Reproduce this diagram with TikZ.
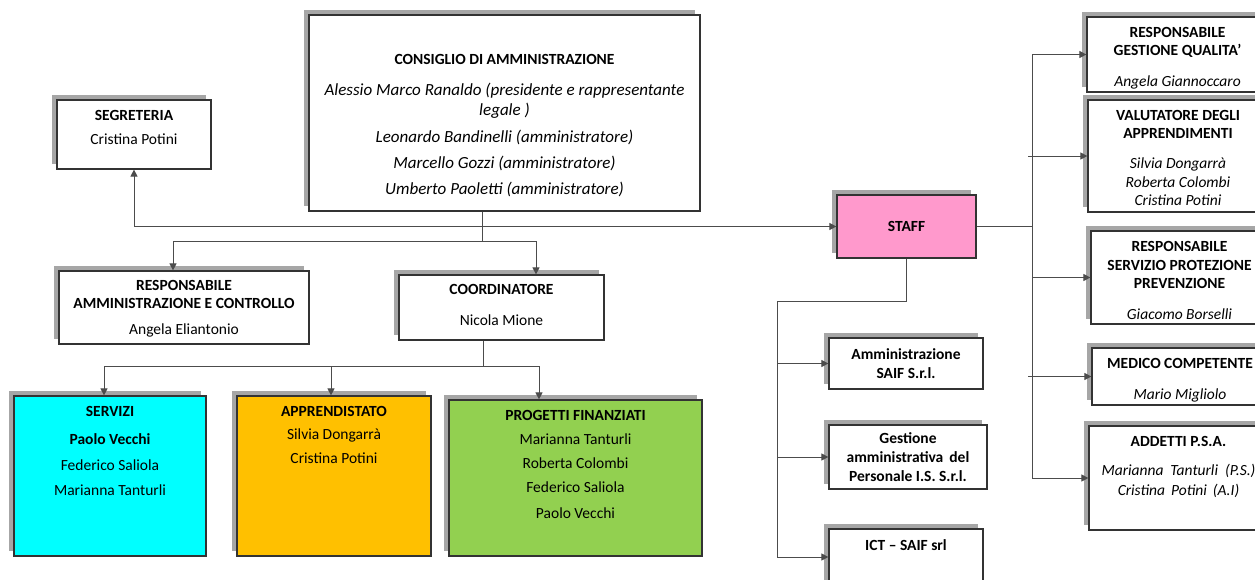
\documentclass[tikz,border=0pt]{standalone}
\usepackage{fontspec}
\setmainfont{Carlito}
\usetikzlibrary{arrows.meta,positioning,shadows}
\definecolor{servCyan}{HTML}{00FFFF}
\definecolor{apprGold}{HTML}{FFC000}
\definecolor{progGreen}{HTML}{92D050}
\definecolor{staffPink}{HTML}{FF99CC}

\begin{document}
\begin{tikzpicture}[x=1pt,y=-1pt,
		whiteBox/.style={draw=black!80,line width=1.2pt,fill=white,inner sep=0pt,align=center,
			font=\fontsize{15.5}{19}\selectfont\bfseries,
			drop shadow={shadow xshift=-5pt,shadow yshift=5pt,fill=black!35,opacity=1}},
		boxText/.style={align=center,inner sep=0pt,font=\fontsize{15.5}{18}\selectfont},
		link/.style={draw=black!70,line width=1pt},
		arrowLink/.style={link,-{Triangle[length=7pt,width=7pt]}}]
	\path[use as bounding box,clip] (0,0) rectangle (1255,579);
	\fill[white] (0,0) rectangle (1255,579);

	\node[whiteBox,minimum width=391pt,minimum height=196pt] (cda) at (504.5,113) {};
	\node[boxText,font=\fontsize{17}{20}\selectfont\itshape,below=39.5pt of cda.north] (cdaText)
		{{\fontsize{15.5}{20}\selectfont\upshape\bfseries CONSIGLIO DI AMMINISTRAZIONE}\\[11pt]
		Alessio Marco Ranaldo (presidente e rappresentante\\
		legale )\\[7pt]
		Leonardo Bandinelli (amministratore)\\[6pt]
		Marcello Gozzi (amministratore)\\[6pt]
		Umberto Paoletti (amministratore)};

	\node[whiteBox,minimum width=154pt,minimum height=69pt] (seg) at (134,134.5) {};
	\node[boxText,below=11pt of seg.north] (segText) {\textbf{SEGRETERIA}\\[6pt]Cristina Potini};

	\node[whiteBox,minimum width=250pt,minimum height=73pt] (resp) at (184,307.5) {};
	\node[boxText,below=10pt of resp.north] (respText)
		{\textbf{RESPONSABILE}\\\textbf{AMMINISTRAZIONE E CONTROLLO}\\[8pt]Angela Eliantonio};

	\node[whiteBox,minimum width=205pt,minimum height=65pt] (coord) at (501.5,307.5) {};
	\node[boxText,below=10pt of coord.north] (coordText) {\textbf{COORDINATORE}\\[13pt]Nicola Mione};

	\node[whiteBox,fill=servCyan,minimum width=192pt,minimum height=160pt] (serv) at (110,476) {};
	\node[boxText,below=11pt of serv.north] (servText)
		{\textbf{SERVIZI}\\[10pt]\textbf{Paolo Vecchi}\\[8pt]Federico Saliola\\[7pt]Marianna Tanturli};

	\node[whiteBox,fill=apprGold,minimum width=194pt,minimum height=160pt] (appr) at (334,476) {};
	\node[boxText,below=11pt of appr.north] (apprText)
		{\textbf{APPRENDISTATO}\\[5pt]Silvia Dongarrà\\[6pt]Cristina Potini};

	\node[whiteBox,fill=progGreen,minimum width=253pt,minimum height=156pt] (prog) at (575.5,478) {};
	\node[boxText,below=11pt of prog.north] (progText)
		{\textbf{PROGETTI FINANZIATI}\\[6pt]Marianna Tanturli\\[6pt]Roberta Colombi\\[6pt]Federico Saliola\\[8pt]Paolo Vecchi};

	\node[whiteBox,fill=staffPink,minimum width=139pt,minimum height=63pt] (staff) at (906.5,226.5) {STAFF};

	\node[whiteBox,minimum width=181pt,minimum height=75pt] (rgq) at (1177.5,54.5) {};
	\node[boxText,below=11pt of rgq.north] (rgqText)
		{\textbf{RESPONSABILE}\\\textbf{GESTIONE QUALITA’}\\[13pt]\textit{Angela Giannoccaro}};

	\node[whiteBox,minimum width=180pt,minimum height=112pt] (val) at (1178,156) {};
	\node[boxText,below=11pt of val.north] (valText)
		{\textbf{VALUTATORE DEGLI}\\\textbf{APPRENDIMENTI}\\[12pt]\textit{Silvia Dongarrà}\\[1pt]\textit{Roberta Colombi}\\\textit{Cristina Potini}};

	\node[whiteBox,minimum width=177pt,minimum height=93pt] (rspp) at (1179.5,277.5) {};
	\node[boxText,below=11pt of rspp.north] (rsppText)
		{\textbf{RESPONSABILE}\\[1pt]\textbf{SERVIZIO PROTEZIONE}\\\textbf{PREVENZIONE}\\[13pt]\textit{Giacomo Borselli}};

	\node[whiteBox,minimum width=176pt,minimum height=57pt] (med) at (1180,376.5) {};
	\node[boxText,below=11pt of med.north] (medText)
		{\textbf{MEDICO COMPETENTE}\\[13pt]\textit{Mario Migliolo}};

	\node[whiteBox,minimum width=179pt,minimum height=104pt] (add) at (1178.5,478) {};
	\node[boxText,below=11pt of add.north] (addText)
		{\textbf{ADDETTI P.S.A.}\\[11pt]\textit{Marianna\hspace{7pt}Tanturli\hspace{7pt}(P.S.)}\\[2pt]\textit{Cristina\hspace{6pt}Potini\hspace{6pt}(A.I)}};

	\node[whiteBox,minimum width=154pt,minimum height=51pt] (amm) at (906,363.5) {Amministrazione\\SAIF S.r.l.};
	\node[whiteBox,minimum width=158pt,minimum height=64pt] (gest) at (908,457) {Gestione\\amministrativa\hspace{6pt}del\\Personale I.S. S.r.l.};
	\node[whiteBox,minimum width=154pt,minimum height=56pt] (ict) at (906,557) {};
	\node[boxText,below=11pt of ict.north] (ictText) {\textbf{ICT – SAIF srl}};

	\coordinate (cdaHub) at (482,241);
	\draw[link] (cda.south -| cdaHub) -- (cdaHub);
	\draw[arrowLink] (cdaHub) -| ([xshift=-11pt]resp.north);
	\draw[arrowLink] (cdaHub) -| ([xshift=34.5pt]coord.north);
	\draw[arrowLink] (seg.south |- staff.west) -- (seg.south);
	\draw[arrowLink] (seg.south |- staff.west) -- (staff.west);

	\coordinate (coordHub) at (483,366);
	\draw[link] (coord.south -| coordHub) -- (coordHub);
	\draw[arrowLink] (coordHub) -| ([xshift=-6pt]serv.north);
	\draw[arrowLink] (coordHub) -| ([xshift=-3pt]appr.north);
	\draw[arrowLink] (coordHub) -| ([xshift=-36.5pt]prog.north);

	\coordinate (staffHub) at (1032,226.5);
	\coordinate (staffHubW) at (1028,226.5);
	\draw[link] (staff.east) -- (staffHub);
	\draw[link] (rgq.west -| staffHub) -- (add.west -| staffHub);
	\draw[arrowLink] (rgq.west -| staffHub) -- (rgq.west);
	\draw[arrowLink] (val.west -| staffHubW) -- (val.west);
	\draw[arrowLink] (rspp.west -| staffHub) -- (rspp.west);
	\draw[arrowLink] (med.west -| staffHubW) -- (med.west);
	\draw[arrowLink] (add.west -| staffHub) -- (add.west);

	\coordinate (staffLeg) at (777,301);
	\draw[link] (staff.south) |- (staffLeg) -- (staffLeg |- ict.west);
	\draw[arrowLink] (amm.west -| staffLeg) -- (amm.west);
	\draw[arrowLink] (gest.west -| staffLeg) -- (gest.west);
	\draw[arrowLink] (ict.west -| staffLeg) -- (ict.west);
\end{tikzpicture}
\end{document}
